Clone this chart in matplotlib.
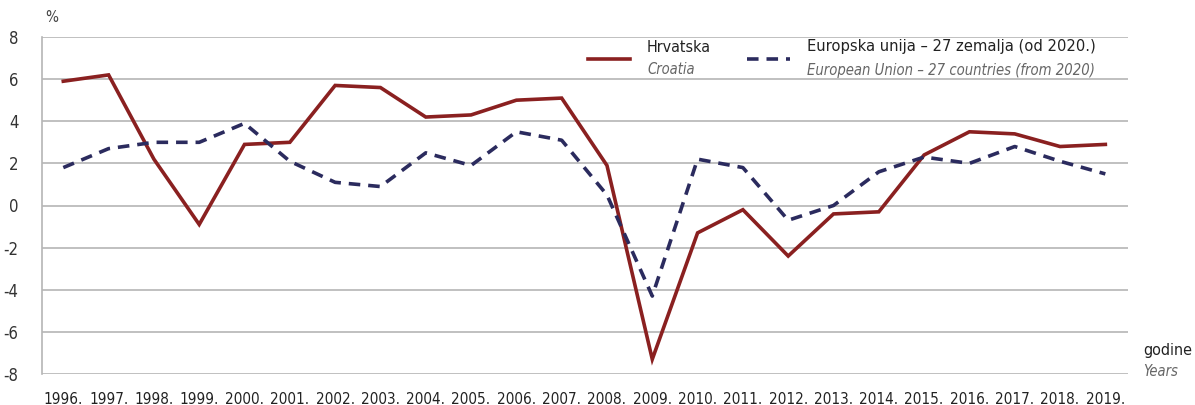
import matplotlib
matplotlib.use("Agg")
import matplotlib.pyplot as plt
from matplotlib.lines import Line2D

plt.rcParams['font.family'] = ['DejaVu Sans']
plt.rcParams['font.stretch'] = 'condensed'

years = list(range(1996, 2020))
year_labels = ["%d." % y for y in years]
croatia = [5.9, 6.2, 2.2, -0.9, 2.9, 3.0, 5.7, 5.6, 4.2, 4.3, 5.0, 5.1,
           1.9, -7.3, -1.3, -0.2, -2.4, -0.4, -0.3, 2.4, 3.5, 3.4, 2.8, 2.9]
eu27 = [1.8, 2.7, 3.0, 3.0, 3.9, 2.1, 1.1, 0.9, 2.5, 1.9, 3.5, 3.1,
        0.5, -4.3, 2.2, 1.8, -0.7, 0.0, 1.6, 2.3, 2.0, 2.8, 2.1, 1.5]
y_ticks = [-8, -6, -4, -2, 0, 2, 4, 6, 8]

red = "#8a2020"
navy = "#2b2b5e"
grid = "#b5b5b5"

fig = plt.figure(figsize=(11.95, 4.05), dpi=100)
ax = fig.add_axes([42 / 1195, 1 - 374 / 405, (1128 - 42) / 1195, (374 - 37) / 405])

x = list(range(len(years)))
ax.plot(x, croatia, color=red, lw=2.6, solid_joinstyle="miter", zorder=3)
ax.plot(x, eu27, color=navy, lw=2.6, dashes=(3.2, 2.2), zorder=3)

ax.set_ylim(-8, 8)
ax.set_xlim(-0.47, 23.5)
ax.set_yticks(y_ticks)
ax.set_yticklabels([str(v) for v in y_ticks], fontsize=12, color="#333333")
ax.set_xticks(x)
ax.set_xticklabels(year_labels, fontsize=11, color="#222222")
ax.tick_params(length=0, pad=13)
ax.tick_params(axis="y", pad=17)
ax.yaxis.grid(True, color=grid, lw=1.2)
ax.set_axisbelow(True)
for s in ["top", "right", "bottom"]:
    ax.spines[s].set_visible(False)
ax.spines["left"].set_color(grid)
ax.spines["left"].set_linewidth(1.2)

fig.text(45 / 1195, 1 - 18 / 405, "%", fontsize=11, color="#444444", va="center")

# legend
fig.add_artist(Line2D([588 / 1195, 630 / 1195], [1 - 59 / 405] * 2, color=red, lw=2.6))
fig.add_artist(Line2D([747 / 1195, 790 / 1195], [1 - 59 / 405] * 2, color=navy, lw=2.6,
                      dashes=(3.2, 2.2)))
fig.text(647 / 1195, 1 - 47 / 405, "Hrvatska", fontsize=11.5, color="#222222", va="center")
fig.text(647 / 1195, 1 - 70 / 405, "Croatia", fontsize=10.5, style="italic",
         color="#666666", va="center")
fig.text(807 / 1195, 1 - 47 / 405, "Europska unija \u2013 27 zemalja (od 2020.)", fontsize=11.8,
         color="#222222", va="center")
fig.text(807 / 1195, 1 - 70 / 405, "European Union \u2013 27 countries (from 2020)",
         fontsize=10.6, style="italic", color="#666666", va="center")

fig.text(1143 / 1195, 1 - 350 / 405, "godine", fontsize=11.5, color="#222222", va="center")
fig.text(1143 / 1195, 1 - 372 / 405, "Years", fontsize=10.5, style="italic",
         color="#666666", va="center")

fig.savefig("out.png", dpi=100)
